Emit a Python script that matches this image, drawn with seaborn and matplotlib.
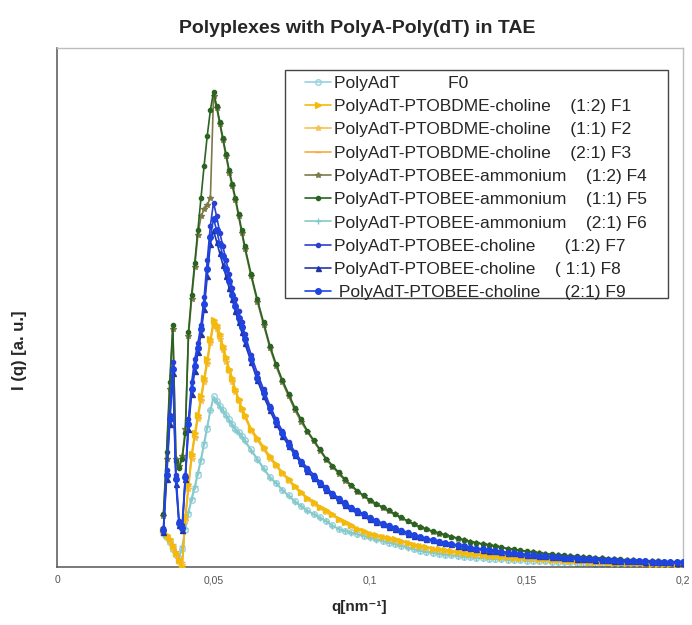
import matplotlib
matplotlib.use("Agg")
import matplotlib.pyplot as plt
from matplotlib.patches import Rectangle
import seaborn as sns

# scattering vector grid, nm^-1
q = [0.034, 0.035, 0.036, 0.037, 0.038, 0.039, 0.040, 0.041, 0.042, 0.043,
     0.044, 0.045, 0.046, 0.047, 0.048, 0.049, 0.050, 0.051, 0.052, 0.053,
     0.054, 0.055, 0.056, 0.057, 0.058, 0.059, 0.060,
     0.062, 0.064, 0.066, 0.068, 0.070, 0.072, 0.074, 0.076, 0.078, 0.080,
     0.082, 0.084, 0.086, 0.088, 0.090, 0.092, 0.094, 0.096, 0.098, 0.100,
     0.102, 0.104, 0.106, 0.108, 0.110, 0.112, 0.114, 0.116, 0.118, 0.120,
     0.122, 0.124, 0.126, 0.128, 0.130, 0.132, 0.134, 0.136, 0.138, 0.140,
     0.142, 0.144, 0.146, 0.148, 0.150, 0.152, 0.154, 0.156, 0.158, 0.160,
     0.162, 0.164, 0.166, 0.168, 0.170, 0.172, 0.174, 0.176, 0.178, 0.180,
     0.182, 0.184, 0.186, 0.188, 0.190, 0.192, 0.194, 0.196, 0.198, 0.200]

# scattered intensity I(q), arbitrary units
f0 = [0.15, 0.13, 0.11, 0.08, 0.05, 0.04, 0.08, 0.16, 0.23, 0.29, 0.34, 0.40, 0.46, 0.53, 0.60, 0.68, 0.74,
      0.72, 0.70, 0.68, 0.66, 0.64, 0.62, 0.60, 0.585, 0.57, 0.55,
      0.51, 0.47, 0.43, 0.39, 0.365, 0.335, 0.31, 0.285, 0.265, 0.245, 0.23, 0.215, 0.20, 0.18,
      0.165, 0.157, 0.15, 0.142, 0.135, 0.128,
      0.12, 0.113, 0.106, 0.10, 0.092, 0.085, 0.077, 0.07, 0.066, 0.062,
      0.057, 0.053, 0.05, 0.047, 0.044, 0.042, 0.04, 0.038, 0.036, 0.035,
      0.033, 0.032, 0.03, 0.029, 0.028, 0.027, 0.026, 0.025, 0.023, 0.022,
      0.021, 0.02, 0.018, 0.017, 0.016, 0.015, 0.015, 0.014, 0.013, 0.013,
      0.012, 0.012, 0.012, 0.011, 0.011, 0.011, 0.010, 0.010, 0.010, 0.010]
f1 = [0.16, 0.14, 0.12, 0.09, 0.06, 0.03, 0.00, 0.22, 0.36, 0.49, 0.58, 0.66, 0.74, 0.82, 0.90, 0.99, 1.07,
      1.05, 1.01, 0.96, 0.91, 0.86, 0.82, 0.77, 0.73, 0.69, 0.66,
      0.60, 0.56, 0.52, 0.48, 0.445, 0.41, 0.38, 0.35, 0.325, 0.30, 0.28, 0.26, 0.245, 0.23,
      0.21, 0.195, 0.18, 0.165, 0.155, 0.145,
      0.137, 0.13, 0.125, 0.12, 0.112, 0.105, 0.097, 0.09, 0.085, 0.08,
      0.076, 0.072, 0.068, 0.065, 0.061, 0.058, 0.055, 0.052, 0.049, 0.047,
      0.045, 0.043, 0.041, 0.04, 0.038, 0.037, 0.035, 0.034, 0.032, 0.031,
      0.029, 0.028, 0.026, 0.025, 0.023, 0.022, 0.021, 0.02, 0.019, 0.018,
      0.017, 0.017, 0.016, 0.016, 0.015, 0.015, 0.014, 0.014, 0.013, 0.013]
f2 = [0.15, 0.13, 0.11, 0.08, 0.05, 0.02, 0.01, 0.20, 0.34, 0.47, 0.56, 0.64, 0.72, 0.80, 0.88, 0.97, 1.05,
      1.03, 0.99, 0.94, 0.89, 0.85, 0.80, 0.76, 0.72, 0.68, 0.65,
      0.59, 0.55, 0.51, 0.47, 0.44, 0.405, 0.375, 0.345, 0.32, 0.295, 0.275, 0.255, 0.24, 0.225,
      0.205, 0.19, 0.177, 0.163, 0.152, 0.142,
      0.135, 0.128, 0.122, 0.117, 0.110, 0.103, 0.096, 0.089, 0.084, 0.079,
      0.075, 0.071, 0.067, 0.064, 0.060, 0.057, 0.054, 0.051, 0.048, 0.046,
      0.044, 0.042, 0.040, 0.039, 0.037, 0.036, 0.034, 0.033, 0.031, 0.030,
      0.028, 0.027, 0.025, 0.024, 0.022, 0.021, 0.020, 0.019, 0.018, 0.018,
      0.017, 0.016, 0.015, 0.015, 0.014, 0.014, 0.013, 0.013, 0.012, 0.012]
f3 = [0.16, 0.14, 0.12, 0.10, 0.07, 0.04, 0.02, 0.21, 0.35, 0.48, 0.57, 0.65, 0.73, 0.81, 0.89, 0.98, 1.06,
      1.04, 1.00, 0.95, 0.90, 0.86, 0.81, 0.765, 0.725, 0.685, 0.655,
      0.595, 0.555, 0.515, 0.475, 0.44, 0.41, 0.378, 0.348, 0.322, 0.298, 0.278, 0.258, 0.243, 0.228,
      0.208, 0.193, 0.178, 0.164, 0.154, 0.144,
      0.136, 0.129, 0.123, 0.118, 0.111, 0.104, 0.097, 0.090, 0.085, 0.080,
      0.076, 0.072, 0.068, 0.065, 0.061, 0.058, 0.055, 0.052, 0.049, 0.047,
      0.045, 0.043, 0.041, 0.040, 0.038, 0.037, 0.035, 0.034, 0.032, 0.031,
      0.029, 0.028, 0.026, 0.025, 0.023, 0.022, 0.021, 0.020, 0.019, 0.018,
      0.017, 0.017, 0.016, 0.016, 0.015, 0.015, 0.014, 0.014, 0.013, 0.013]
f4 = [0.22, 0.47, 0.77, 1.03, 0.47, 0.44, 0.48, 0.60, 1.00, 1.16, 1.30, 1.44, 1.52, 1.55, 1.57, 1.60, 2.04,
      1.99, 1.92, 1.85, 1.78, 1.71, 1.65, 1.59, 1.52, 1.45, 1.38,
      1.26, 1.15, 1.05, 0.95, 0.87, 0.80, 0.74, 0.68, 0.63, 0.585, 0.545, 0.505, 0.465, 0.435,
      0.405, 0.375, 0.35, 0.327, 0.307, 0.287,
      0.272, 0.257, 0.243, 0.228, 0.213, 0.198, 0.185, 0.173, 0.163, 0.153,
      0.145, 0.138, 0.130, 0.123, 0.116, 0.109, 0.104, 0.099, 0.094, 0.089,
      0.084, 0.079, 0.075, 0.071, 0.067, 0.064, 0.060, 0.057, 0.054, 0.051,
      0.049, 0.047, 0.045, 0.043, 0.041, 0.039, 0.037, 0.035, 0.033, 0.032,
      0.030, 0.029, 0.028, 0.027, 0.025, 0.024, 0.023, 0.022, 0.021, 0.020]
f5 = [0.23, 0.50, 0.80, 1.05, 0.46, 0.43, 0.47, 0.58, 1.02, 1.18, 1.32, 1.46, 1.60, 1.74, 1.87, 1.98, 2.06,
      2.00, 1.93, 1.86, 1.79, 1.72, 1.66, 1.60, 1.53, 1.46, 1.39,
      1.27, 1.16, 1.06, 0.96, 0.88, 0.81, 0.75, 0.69, 0.64, 0.59, 0.55, 0.51, 0.47, 0.44,
      0.41, 0.38, 0.355, 0.33, 0.31, 0.29,
      0.275, 0.26, 0.245, 0.23, 0.215, 0.20, 0.187, 0.175, 0.165, 0.155,
      0.147, 0.14, 0.132, 0.125, 0.117, 0.11, 0.105, 0.10, 0.095, 0.09,
      0.085, 0.08, 0.076, 0.072, 0.068, 0.065, 0.061, 0.058, 0.055, 0.052,
      0.05, 0.048, 0.046, 0.044, 0.042, 0.04, 0.038, 0.036, 0.034, 0.033,
      0.031, 0.03, 0.028, 0.027, 0.026, 0.025, 0.023, 0.022, 0.021, 0.02]
f6 = [0.14, 0.12, 0.10, 0.07, 0.05, 0.04, 0.09, 0.17, 0.24, 0.30, 0.35, 0.41, 0.47, 0.54, 0.61, 0.68, 0.73,
      0.715, 0.695, 0.675, 0.655, 0.635, 0.615, 0.595, 0.58, 0.565, 0.545,
      0.505, 0.465, 0.425, 0.388, 0.362, 0.333, 0.308, 0.283, 0.263, 0.243, 0.228, 0.213, 0.198, 0.179,
      0.164, 0.156, 0.149, 0.141, 0.134, 0.127,
      0.119, 0.112, 0.105, 0.099, 0.091, 0.084, 0.077, 0.070, 0.065, 0.061,
      0.057, 0.053, 0.050, 0.047, 0.044, 0.042, 0.040, 0.038, 0.036, 0.035,
      0.033, 0.032, 0.030, 0.029, 0.028, 0.027, 0.026, 0.025, 0.023, 0.022,
      0.021, 0.020, 0.018, 0.017, 0.016, 0.015, 0.015, 0.014, 0.013, 0.013,
      0.012, 0.012, 0.012, 0.011, 0.011, 0.011, 0.010, 0.010, 0.010, 0.010]
f7 = [0.17, 0.42, 0.66, 0.89, 0.40, 0.20, 0.18, 0.40, 0.64, 0.80, 0.90, 0.97, 1.05, 1.17, 1.33, 1.48, 1.58,
      1.52, 1.45, 1.39, 1.33, 1.27, 1.21, 1.16, 1.11, 1.06, 1.01,
      0.92, 0.84, 0.77, 0.70, 0.64, 0.59, 0.54, 0.50, 0.46, 0.43, 0.40, 0.37, 0.345, 0.32,
      0.30, 0.28, 0.26, 0.245, 0.23, 0.215,
      0.202, 0.19, 0.18, 0.17, 0.16, 0.15, 0.14, 0.13, 0.124, 0.118,
      0.111, 0.105, 0.10, 0.095, 0.09, 0.085, 0.081, 0.077, 0.073, 0.07,
      0.066, 0.063, 0.06, 0.057, 0.054, 0.052, 0.049, 0.047, 0.045, 0.043,
      0.041, 0.039, 0.037, 0.036, 0.034, 0.033, 0.031, 0.03, 0.029, 0.028,
      0.027, 0.026, 0.025, 0.024, 0.023, 0.022, 0.021, 0.021, 0.020, 0.020]
f8 = [0.15, 0.38, 0.62, 0.84, 0.36, 0.18, 0.16, 0.38, 0.60, 0.75, 0.85, 0.93, 1.01, 1.12, 1.26, 1.40, 1.46,
      1.41, 1.36, 1.31, 1.26, 1.21, 1.16, 1.11, 1.06, 1.02, 0.97,
      0.89, 0.81, 0.74, 0.68, 0.62, 0.57, 0.525, 0.485, 0.45, 0.415, 0.385, 0.36, 0.335, 0.31,
      0.29, 0.27, 0.255, 0.24, 0.225, 0.21,
      0.197, 0.185, 0.175, 0.165, 0.155, 0.145, 0.136, 0.128, 0.121, 0.115,
      0.109, 0.103, 0.098, 0.093, 0.088, 0.083, 0.079, 0.075, 0.071, 0.068,
      0.065, 0.062, 0.059, 0.056, 0.053, 0.051, 0.048, 0.046, 0.044, 0.042,
      0.040, 0.038, 0.036, 0.035, 0.033, 0.032, 0.030, 0.029, 0.028, 0.027,
      0.026, 0.025, 0.024, 0.023, 0.022, 0.022, 0.021, 0.020, 0.019, 0.019]
f9 = [0.16, 0.40, 0.64, 0.86, 0.38, 0.19, 0.17, 0.39, 0.62, 0.77, 0.87, 0.95, 1.03, 1.14, 1.29, 1.43, 1.51,
      1.46, 1.40, 1.35, 1.29, 1.24, 1.18, 1.13, 1.08, 1.04, 0.99,
      0.90, 0.82, 0.755, 0.69, 0.63, 0.58, 0.53, 0.49, 0.455, 0.42, 0.39, 0.365, 0.34, 0.315,
      0.295, 0.275, 0.257, 0.242, 0.228, 0.212,
      0.200, 0.188, 0.178, 0.168, 0.158, 0.148, 0.138, 0.129, 0.122, 0.116,
      0.110, 0.104, 0.099, 0.094, 0.089, 0.084, 0.080, 0.076, 0.072, 0.069,
      0.065, 0.062, 0.059, 0.056, 0.053, 0.051, 0.049, 0.047, 0.045, 0.043,
      0.041, 0.039, 0.037, 0.036, 0.034, 0.033, 0.031, 0.030, 0.029, 0.028,
      0.027, 0.026, 0.025, 0.024, 0.023, 0.022, 0.021, 0.021, 0.020, 0.020]

labels = [
    "PolyAdT          F0",
    "PolyAdT-PTOBDME-choline    (1:2) F1",
    "PolyAdT-PTOBDME-choline    (1:1) F2",
    "PolyAdT-PTOBDME-choline    (2:1) F3",
    "PolyAdT-PTOBEE-ammonium    (1:2) F4",
    "PolyAdT-PTOBEE-ammonium    (1:1) F5",
    "PolyAdT-PTOBEE-ammonium    (2:1) F6",
    "PolyAdT-PTOBEE-choline      (1:2) F7",
    "PolyAdT-PTOBEE-choline    ( 1:1) F8",
    " PolyAdT-PTOBEE-choline     (2:1) F9",
]
x_ticks = [0, 0.05, 0.1, 0.15, 0.2]
x_ticklabels = ["0", "0,05", "0,1", "0,15", "0,2"]

series = [f0, f1, f2, f3, f4, f5, f6, f7, f8, f9]
styles = [
    dict(color="#96d2e1", marker="o", ms=4.0, mfc="none", z=2.0),
    dict(color="#f2bb0c", marker=">", ms=4.8, mfc="#f2bb0c", z=2.6),
    dict(color="#f6c24e", marker="*", ms=4.4, mfc="#f6c24e", z=2.2),
    dict(color="#f5ab3e", marker="_", ms=4.4, mfc="#f5ab3e", z=2.3),
    dict(color="#7d7a48", marker="*", ms=4.4, mfc="#7d7a48", z=2.4),
    dict(color="#2a6422", marker="o", ms=3.0, mfc="#2a6422", z=2.7),
    dict(color="#86c9c9", marker="+", ms=4.4, mfc="#86c9c9", z=2.1),
    dict(color="#2c3fd0", marker="o", ms=3.0, mfc="#2c3fd0", z=2.9),
    dict(color="#2236a8", marker="^", ms=3.6, mfc="#2236a8", z=2.8),
    dict(color="#1f45e0", marker="o", ms=4.0, mfc="#1f45e0", z=3.0),
]

sns.set_style("white")
plt.rcParams["font.family"] = ["Liberation Sans", "DejaVu Sans"]

fig = plt.figure(figsize=(6.92, 6.25), dpi=100)
ax = fig.add_axes([0.0824, 0.0928, 0.9046, 0.8304])

for y, lab, st in zip(series, labels, styles):
    sns.lineplot(x=q, y=y, ax=ax, label=lab, sort=False, estimator=None,
                 color=st["color"], linewidth=1.2, marker=st["marker"],
                 markersize=st["ms"], markerfacecolor=st["mfc"],
                 markeredgecolor=st["color"], markeredgewidth=1.0,
                 zorder=st["z"])

ax.set_xlim(0, 0.2)
ax.set_ylim(0, 2.25)
ax.set_xticks(x_ticks)
ax.set_xticklabels(x_ticklabels)
ax.set_yticks([0, 1, 2])
ax.set_yticklabels([])
ax.set_xlabel("")
ax.set_ylabel("")
ax.tick_params(axis="both", direction="out", length=4, width=0.8,
               colors="#555555", labelsize=7.5, pad=2)
for side in ("left", "bottom"):
    ax.spines[side].set_color("#555555")
    ax.spines[side].set_linewidth(1.1)
for side in ("top", "right"):
    ax.spines[side].set_color("#bdbdbd")
    ax.spines[side].set_linewidth(1.0)

# legend box drawn separately so its padding can be set freely
ax.add_patch(Rectangle((0.364, 0.518), 0.612, 0.440, transform=ax.transAxes,
                       fill=True, facecolor="white", edgecolor="#444444",
                       linewidth=1.0, zorder=4))
handles, labs = ax.get_legend_handles_labels()
leg = ax.legend(handles, labs, loc="upper left", bbox_to_anchor=(0.396, 0.947),
                borderaxespad=0, borderpad=0, frameon=False, fontsize=12.5,
                handlelength=1.5, handletextpad=0.2, labelspacing=0.47)
leg.set_zorder(5)

fig.text(0.516, 0.955, "Polyplexes with PolyA-Poly(dT) in TAE",
         ha="center", va="center", fontsize=14, fontweight="bold")
fig.text(359 / 692, 1 - 607 / 625, "q[nm\u207b\u00b9]",
         ha="center", va="center", fontsize=11, fontweight="bold")
fig.text(20 / 692, 1 - 350 / 625, "I (q) [a. u.]", rotation=90,
         ha="center", va="center", fontsize=12, fontweight="bold")

fig.savefig("out.png", dpi=100)
